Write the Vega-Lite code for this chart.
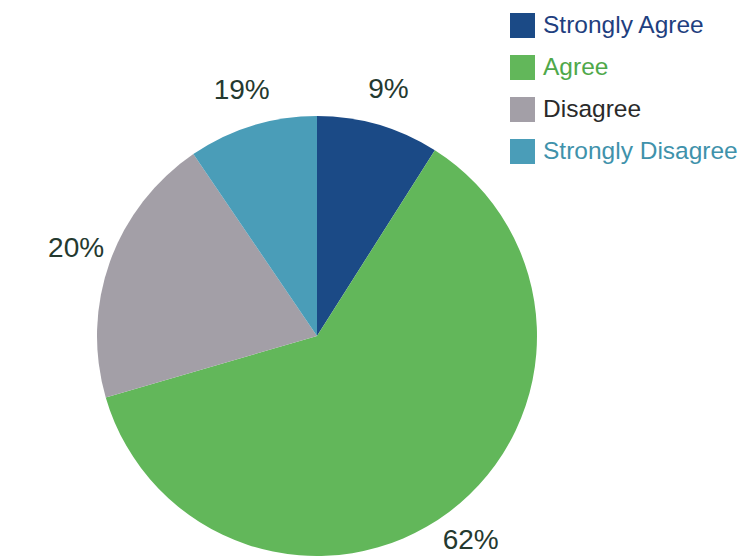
{
  "$schema": "https://vega.github.io/schema/vega-lite/v6.json",
  "autosize": "none",
  "width": 440,
  "height": 440,
  "padding": {"left": 97, "top": 116, "right": 216, "bottom": 0},
  "background": "white",
  "data": {
    "values": [
      {"category": "Strongly Agree", "value": 9, "label": "9%", "order": 1},
      {"category": "Agree", "value": 61.5, "label": "62%", "order": 2},
      {"category": "Disagree", "value": 20, "label": "20%", "order": 3},
      {"category": "Strongly Disagree", "value": 9.5, "label": "19%", "order": 4}
    ]
  },
  "encoding": {
    "theta": {"field": "value", "type": "quantitative", "stack": true},
    "order": {"field": "order", "type": "quantitative"}
  },
  "layer": [
    {
      "mark": {"type": "arc", "outerRadius": 220},
      "encoding": {
        "color": {
          "field": "category",
          "type": "nominal",
          "sort": ["Strongly Agree", "Agree", "Disagree", "Strongly Disagree"],
          "scale": {
            "domain": ["Strongly Agree", "Agree", "Disagree", "Strongly Disagree"],
            "range": ["#1b4a86", "#62b75a", "#a39fa7", "#4a9db8"]
          },
          "legend": {
            "title": null,
            "orient": "none",
            "legendX": 413,
            "legendY": -103,
            "padding": 0,
            "symbolType": "square",
            "symbolSize": 625,
            "symbolStrokeWidth": 0,
            "symbolOpacity": 1,
            "labelFont": "Liberation Sans",
            "labelFontSize": 24.5,
            "labelOffset": 8,
            "rowPadding": 16,
            "labelLimit": 300,
            "encode": {
              "labels": {
                "update": {
                  "fill": {"signal": "datum.value == 'Disagree' ? '#2a2a2a' : datum.value == 'Agree' ? '#4fa84a' : datum.value == 'Strongly Agree' ? '#1f3f80' : '#3f92ab'"}
                }
              }
            }
          }
        }
      }
    },
    {
      "mark": {"type": "text", "radius": 256, "font": "Liberation Sans", "fontSize": 28, "color": "#24392f", "baseline": "middle", "align": "center"},
      "encoding": {
        "text": {"field": "label"}
      }
    }
  ]
}
